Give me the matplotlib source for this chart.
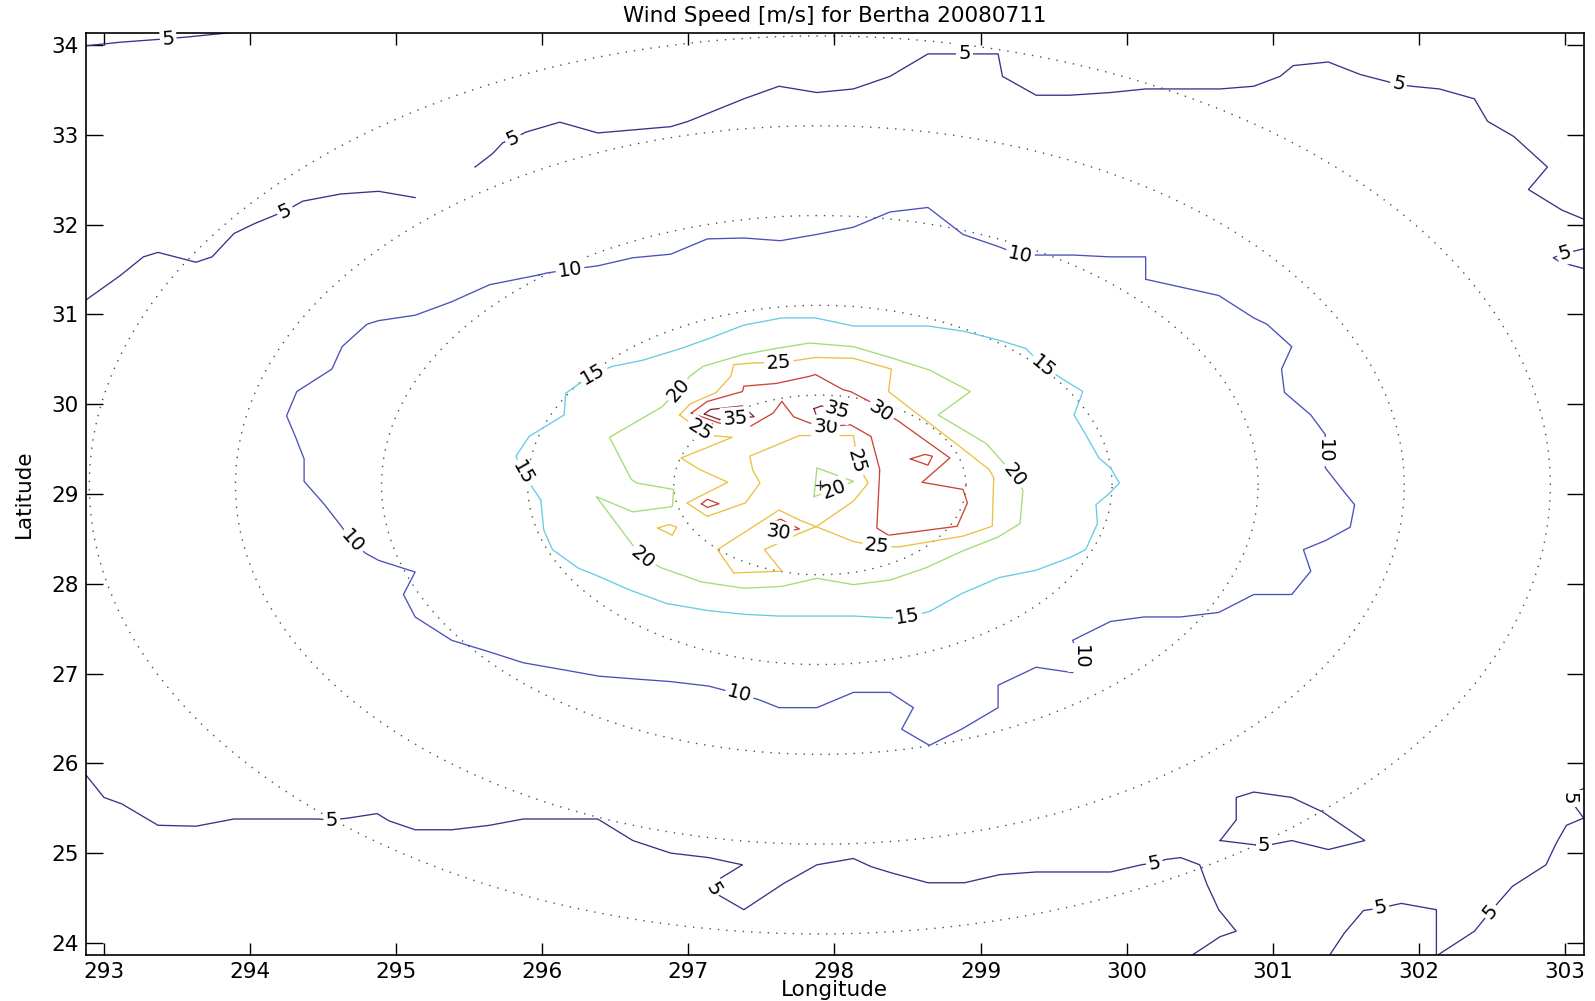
import numpy as np
import matplotlib
matplotlib.use('Agg')
import matplotlib.pyplot as plt

plt.rcParams['font.family'] = ['DejaVu Sans']

# Centro de la tormenta y radios de los anillos (grados)
centro_lon = 297.90
centro_lat = 29.10
radios = [1, 2, 3, 4, 5]

# Isotacas de 5 m/s (lon, lat)
c5_a = [(292.877, 33.99), (293.11, 34.03), (293.44, 34.07), (293.58, 34.09), (293.87, 34.137)]
e5_a = [(293.44, 34.07)]
c5_b = [(292.877, 31.16), (293.11, 31.43), (293.27, 31.64), (293.37, 31.69), (293.63, 31.58),
        (293.74, 31.64), (293.89, 31.90), (294.03, 32.01), (294.24, 32.15), (294.36, 32.26),
        (294.62, 32.34), (294.88, 32.37), (295.13, 32.30)]
e5_b = [(294.24, 32.15)]
c5_c = [(295.54, 32.64), (295.66, 32.79), (295.73, 32.91), (295.80, 32.96), (295.89, 33.03),
        (296.12, 33.14), (296.38, 33.02), (296.88, 33.09), (297.00, 33.15), (297.38, 33.40),
        (297.62, 33.54), (297.88, 33.47), (298.13, 33.51), (298.38, 33.65), (298.64, 33.90),
        (298.89, 33.90), (299.12, 33.90), (299.15, 33.65), (299.38, 33.44), (299.61, 33.44),
        (299.89, 33.47), (300.13, 33.51), (300.64, 33.51), (300.87, 33.54), (301.05, 33.65),
        (301.14, 33.77), (301.38, 33.81), (301.60, 33.67), (301.86, 33.56), (301.95, 33.54),
        (302.14, 33.51), (302.38, 33.40), (302.47, 33.15), (302.65, 32.98), (302.88, 32.64),
        (302.75, 32.39), (302.98, 32.16), (303.128, 32.06)]
e5_c = [(295.80, 32.96), (298.89, 33.90), (301.86, 33.56)]
c5_d = [(303.128, 31.73), (303.00, 31.68), (302.92, 31.63), (302.97, 31.58), (303.128, 31.51)]
e5_d = [(303.00, 31.68)]
c5_e = [(292.877, 25.87), (293.00, 25.62), (293.12, 25.55), (293.37, 25.31), (293.63, 25.30),
        (293.89, 25.38), (294.46, 25.38), (294.56, 25.37), (294.67, 25.39), (294.87, 25.44),
        (294.95, 25.36), (295.13, 25.26), (295.38, 25.26), (295.64, 25.31), (295.87, 25.38),
        (296.38, 25.38), (296.62, 25.14), (296.88, 25.00), (297.14, 24.95), (297.37, 24.87),
        (297.16, 24.66), (297.17, 24.60), (297.21, 24.53), (297.38, 24.37), (297.65, 24.66),
        (297.88, 24.87), (298.13, 24.94), (298.25, 24.85), (298.39, 24.78), (298.64, 24.67),
        (298.89, 24.67), (299.13, 24.76), (299.38, 24.79), (299.89, 24.79), (300.10, 24.87),
        (300.19, 24.89), (300.27, 24.93), (300.37, 24.95), (300.50, 24.87), (300.55, 24.65),
        (300.63, 24.37), (300.75, 24.13), (300.64, 24.07), (300.45, 23.866)]
e5_e = [(294.56, 25.37), (297.17, 24.60), (300.19, 24.89)]
c5_f = [(300.64, 25.14), (300.75, 25.37), (300.75, 25.62), (300.87, 25.68), (301.13, 25.62),
        (301.34, 25.46), (301.63, 25.14), (301.38, 25.04), (301.13, 25.14), (300.94, 25.08),
        (300.64, 25.14)]
e5_f = [(300.94, 25.08)]
c5_g = [(301.39, 23.866), (301.49, 24.11), (301.62, 24.36), (301.74, 24.39), (301.88, 24.44),
        (302.12, 24.37), (302.12, 23.866)]
e5_g = [(301.74, 24.39)]
c5_h = [(302.13, 23.866), (302.38, 24.13), (302.49, 24.35), (302.64, 24.63), (302.87, 24.87),
        (302.94, 25.11), (303.01, 25.31), (303.128, 25.39), (303.06, 25.54), (303.03, 25.61),
        (303.06, 25.67), (303.128, 25.72)]
e5_h = [(302.49, 24.35), (303.03, 25.61)]

# Isotaca de 10 m/s
c10 = [(295.98, 31.44), (295.64, 31.33), (295.38, 31.14), (295.13, 30.99), (294.88, 30.93),
       (294.80, 30.89), (294.63, 30.64), (294.56, 30.39), (294.32, 30.14), (294.25, 29.87),
       (294.31, 29.64), (294.37, 29.39), (294.37, 29.14), (294.51, 28.88), (294.62, 28.65),
       (294.70, 28.47), (294.79, 28.34), (294.88, 28.26), (295.13, 28.13), (295.05, 27.88),
       (295.13, 27.63), (295.38, 27.37), (295.64, 27.24), (295.87, 27.12), (296.15, 27.04),
       (296.39, 26.97), (296.63, 26.94), (296.88, 26.91), (297.14, 26.86), (297.35, 26.77),
       (297.48, 26.71), (297.62, 26.62), (297.88, 26.62), (298.13, 26.79), (298.38, 26.79),
       (298.54, 26.62), (298.46, 26.38), (298.65, 26.20), (298.87, 26.38), (299.12, 26.62),
       (299.12, 26.87), (299.38, 27.07), (299.63, 27.01), (299.68, 27.18), (299.63, 27.37),
       (299.89, 27.58), (300.12, 27.63), (300.37, 27.63), (300.63, 27.68), (300.87, 27.88),
       (301.13, 27.88), (301.26, 28.14), (301.21, 28.38), (301.36, 28.48), (301.53, 28.63),
       (301.56, 28.88), (301.48, 29.04), (301.36, 29.29), (301.35, 29.47), (301.36, 29.66),
       (301.26, 29.88), (301.08, 30.13), (301.06, 30.39), (301.13, 30.64), (300.96, 30.89),
       (300.87, 30.96), (300.63, 31.21), (300.13, 31.39), (300.13, 31.64), (299.88, 31.64),
       (299.64, 31.66), (299.39, 31.66), (299.27, 31.66), (299.13, 31.75), (298.88, 31.89),
       (298.64, 32.19), (298.38, 32.14), (298.13, 31.97), (297.88, 31.89), (297.63, 31.82),
       (297.38, 31.85), (297.13, 31.84), (296.88, 31.67), (296.62, 31.63), (296.38, 31.54),
       (296.19, 31.50), (296.03, 31.46), (295.98, 31.44)]
e10 = [(296.19, 31.50), (294.70, 28.47), (297.35, 26.77), (299.68, 27.18), (301.35, 29.47),
       (299.27, 31.66)]

# Isotaca de 15 m/s
c15 = [(295.99, 28.93), (295.87, 29.23), (295.82, 29.42), (295.91, 29.64), (295.98, 29.71),
       (296.15, 29.88), (296.16, 30.12), (296.35, 30.34), (296.48, 30.42), (296.69, 30.49),
       (296.95, 30.62), (297.14, 30.73), (297.38, 30.88), (297.64, 30.96), (297.87, 30.96),
       (298.13, 30.87), (298.38, 30.87), (298.64, 30.87), (298.89, 30.81), (299.13, 30.71),
       (299.31, 30.62), (299.43, 30.42), (299.57, 30.27), (299.70, 30.14), (299.64, 29.88),
       (299.72, 29.66), (299.81, 29.40), (299.89, 29.29), (299.95, 29.12), (299.87, 28.99),
       (299.79, 28.88), (299.80, 28.67), (299.72, 28.38), (299.61, 28.29), (299.38, 28.15),
       (299.13, 28.07), (298.87, 27.89), (298.65, 27.69), (298.50, 27.63), (298.37, 27.62),
       (298.13, 27.64), (297.88, 27.64), (297.62, 27.64), (297.38, 27.66), (297.14, 27.70),
       (296.85, 27.78), (296.60, 27.93), (296.36, 28.10), (296.25, 28.17), (296.07, 28.38),
       (296.01, 28.60), (295.99, 28.93)]
e15 = [(295.87, 29.23), (296.35, 30.34), (299.43, 30.42), (298.50, 27.63)]

# Isotacas de 20 m/s
c20 = [(296.93, 30.16), (297.01, 30.31), (297.10, 30.42), (297.37, 30.55), (297.60, 30.62),
       (297.83, 30.68), (298.13, 30.64), (298.40, 30.51), (298.65, 30.38), (298.93, 30.14),
       (298.71, 29.88), (299.04, 29.56), (299.23, 29.21), (299.29, 29.04), (299.27, 28.67),
       (299.12, 28.52), (298.87, 28.36), (298.63, 28.18), (298.38, 28.04), (298.13, 27.99),
       (297.88, 28.06), (297.64, 27.97), (297.38, 27.95), (297.09, 28.02), (296.81, 28.18),
       (296.69, 28.29), (296.61, 28.45), (296.37, 28.97), (296.62, 28.80), (296.89, 28.86),
       (296.90, 29.05), (296.65, 29.12), (296.61, 29.16), (296.46, 29.63), (296.82, 29.97),
       (296.93, 30.16)]
e20 = [(296.93, 30.16), (299.23, 29.21), (296.69, 28.29)]
c20_b = [(297.86, 28.97), (297.88, 29.29), (298.13, 29.14), (298.00, 29.05), (297.86, 28.97)]
e20_b = [(298.00, 29.05)]

# Isotacas de 25 m/s
c25 = [(296.94, 29.88), (297.01, 30.00), (297.19, 30.13), (297.29, 30.31), (297.31, 30.44),
       (297.46, 30.46), (297.62, 30.46), (297.75, 30.49), (297.87, 30.52), (298.13, 30.51),
       (298.39, 30.39), (298.37, 30.14), (298.88, 29.50), (299.06, 29.27), (299.09, 29.18),
       (299.08, 28.64), (298.88, 28.53), (298.44, 28.41), (298.29, 28.42), (298.13, 28.47),
       (297.76, 28.71), (297.62, 28.82), (297.20, 28.38), (297.31, 28.12), (297.64, 28.14),
       (297.52, 28.38), (297.76, 28.56), (297.88, 28.64), (298.13, 28.92), (298.23, 29.12),
       (298.20, 29.21), (298.15, 29.36), (298.14, 29.55), (298.13, 29.65), (297.76, 29.65),
       (297.42, 29.42), (297.44, 29.27), (297.49, 29.12), (297.39, 28.90), (297.13, 28.75),
       (296.99, 28.90), (297.27, 29.13), (297.08, 29.27), (296.95, 29.40), (297.30, 29.63),
       (297.16, 29.65), (297.08, 29.71), (296.94, 29.88)]
e25 = [(297.62, 30.46), (298.29, 28.42), (298.15, 29.36), (297.08, 29.71)]
c25_b = [(296.79, 28.62), (296.87, 28.66), (296.92, 28.63), (296.89, 28.54), (296.79, 28.62)]

# Isotacas de 30 m/s
c30 = [(297.02, 29.90), (297.13, 30.03), (297.37, 30.14), (297.38, 30.20), (297.60, 30.23),
       (297.83, 30.31), (297.87, 30.33), (298.06, 30.16), (298.11, 30.14), (298.24, 30.03),
       (298.32, 29.92), (298.43, 29.82), (298.79, 29.40), (298.60, 29.13), (298.88, 29.05),
       (298.91, 28.90), (298.84, 28.64), (298.37, 28.54), (298.29, 28.62), (298.31, 29.27),
       (298.25, 29.64), (298.11, 29.77), (297.94, 29.75), (297.83, 29.79), (297.72, 29.86),
       (297.64, 30.03), (297.58, 29.90), (297.40, 29.73), (297.21, 29.79), (297.02, 29.90)]
e30 = [(298.32, 29.92), (297.94, 29.75)]
c30_b = [(298.52, 29.39), (298.62, 29.44), (298.67, 29.42), (298.64, 29.32), (298.52, 29.39)]
c30_c = [(297.09, 28.89), (297.13, 28.94), (297.21, 28.89), (297.13, 28.85), (297.09, 28.89)]
c30_d = [(297.55, 28.66), (297.63, 28.72), (297.76, 28.61), (297.62, 28.57), (297.55, 28.66)]
e30_d = [(297.62, 28.57)]

# Isotacas de 35 m/s
c35_a = [(297.11, 29.89), (297.15, 29.94), (297.37, 29.98), (297.45, 29.86), (297.32, 29.84),
         (297.21, 29.83), (297.11, 29.89)]
e35_a = [(297.32, 29.84)]
c35_b = [(297.86, 29.95), (297.91, 29.98), (298.02, 29.93), (298.10, 29.89), (298.00, 29.85),
         (297.88, 29.85), (297.86, 29.95)]
e35_b = [(298.02, 29.93)]

colores = {5: '#34348a', 10: '#4a50ba', 15: '#66cce6', 20: '#a2dc78',
           25: '#ecc040', 30: '#cc4436', 35: '#8a2634'}

contornos = [
    (5, c5_a, e5_a), (5, c5_b, e5_b), (5, c5_c, e5_c), (5, c5_d, e5_d),
    (5, c5_e, e5_e), (5, c5_f, e5_f), (5, c5_g, e5_g), (5, c5_h, e5_h),
    (10, c10, e10), (15, c15, e15),
    (20, c20, e20), (20, c20_b, e20_b),
    (25, c25, e25), (25, c25_b, []),
    (30, c30, e30), (30, c30_b, []), (30, c30_c, []), (30, c30_d, e30_d),
    (35, c35_a, e35_a), (35, c35_b, e35_b),
]


def etiqueta(ax, puntos, pos, texto):
    # gira el texto segun la direccion local de la linea
    xy = ax.transData.transform(np.array(puntos))
    p = ax.transData.transform(np.array([pos]))[0]
    i = int(np.argmin(np.hypot(xy[:, 0] - p[0], xy[:, 1] - p[1])))
    a = xy[max(i - 1, 0)]
    b = xy[min(i + 1, len(xy) - 1)]
    ang = np.degrees(np.arctan2(b[1] - a[1], b[0] - a[0]))
    while ang >= 90:
        ang -= 180
    while ang < -90:
        ang += 180
    ax.text(pos[0], pos[1], texto, rotation=ang, rotation_mode='anchor',
            ha='center', va='center', fontsize=14, color='black', zorder=4,
            bbox=dict(fc='white', ec='none', pad=1.5))


fig = plt.figure(figsize=(15.95, 10.01), dpi=100)
ax = fig.add_axes([0.0539, 0.046, 0.939, 0.9214])
ax.set_xlim(292.877, 303.128)
ax.set_ylim(23.866, 34.137)

# Anillos punteados alrededor del centro
t = np.linspace(0, 2 * np.pi, 500)
for r in radios:
    ax.plot(centro_lon + r * np.cos(t), centro_lat + r * np.sin(t),
            color='0.3', lw=1.0, ls=(0, (1, 5)), zorder=1)

for nivel, puntos, etiquetas in contornos:
    lon = [p[0] for p in puntos]
    lat = [p[1] for p in puntos]
    ax.plot(lon, lat, color=colores[nivel], lw=0.95, zorder=2)
    for e in etiquetas:
        etiqueta(ax, puntos, e, str(nivel))

ax.plot(centro_lon, centro_lat, '+', color='0.15', ms=7, mew=0.9, zorder=5)

ax.set_xticks(range(293, 304))
ax.set_yticks(range(24, 35))
ax.tick_params(direction='in', top=True, right=True, labelsize=15.5, pad=5, width=1.0)
ax.tick_params(axis='x', length=8.4)
ax.tick_params(axis='y', length=11.9)
for s in ax.spines.values():
    s.set_linewidth(1.2)

ax.set_title('Wind Speed [m/s] for Bertha 20080711', fontsize=15.5, pad=8)
ax.set_xlabel('Longitude', fontsize=15.5)
ax.xaxis.set_label_coords(0.5, -0.027)
ax.set_ylabel('Latitude', fontsize=15.5)
ax.yaxis.set_label_coords(-0.035, 0.5)

fig.savefig('out.png', dpi=100)
